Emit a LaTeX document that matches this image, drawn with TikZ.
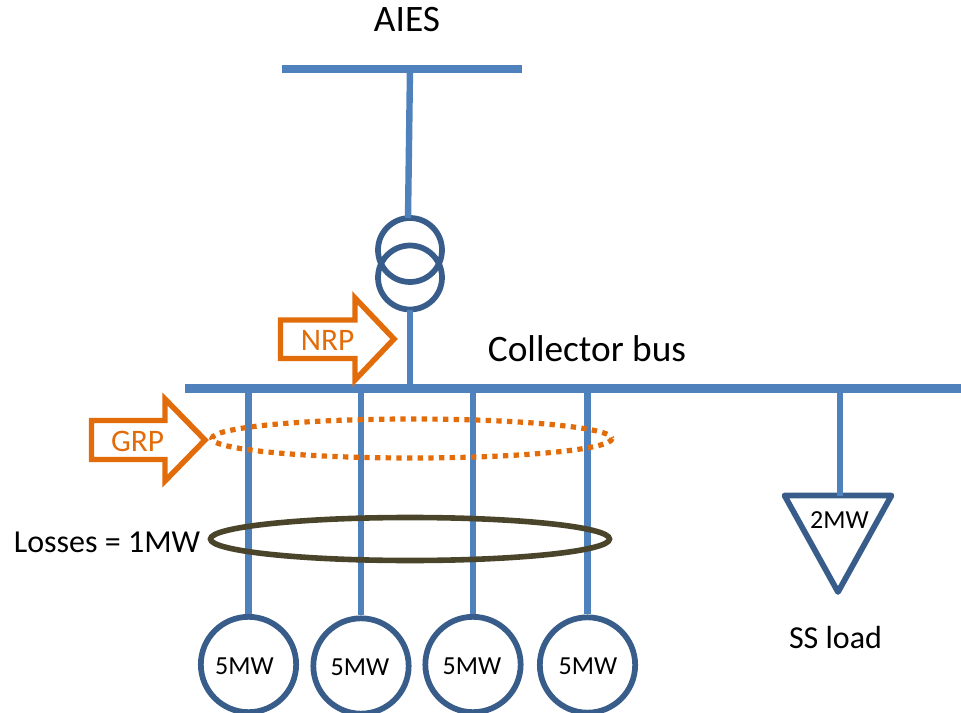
\documentclass[tikz,border=0pt]{standalone}
\usepackage{fontspec}
\setmainfont{Carlito}
\usepackage{xcolor}
\definecolor{busblue}{HTML}{4F81BD}
\definecolor{ringblue}{HTML}{385D8A}
\definecolor{flowor}{HTML}{E36C0A}
\definecolor{lossol}{HTML}{4A452A}
\tikzset{
	bus/.style={busblue,line width=6.3pt},
	feeder/.style={busblue,line width=4.8pt},
	ring/.style={ringblue,line width=4.3pt},
	flow/.style={flowor,line width=4.1pt,miter limit=10},
	lbl/.style={inner sep=0pt,font=\fontsize{28}{32}\selectfont},
	lblmid/.style={inner sep=0pt,font=\fontsize{24}{28}\selectfont},
	lblflow/.style={inner sep=0pt,flowor,font=\fontsize{23.5}{27}\selectfont},
	lblsmall/.style={inner sep=0pt,font=\fontsize{19.5}{23}\selectfont},
}
\begin{document}
\begin{tikzpicture}[x=0.75pt,y=-0.75pt]
				\useasboundingbox (0,0) rectangle (961,713);
				\coordinate (T1) at (282,69);
				\coordinate (T2) at (522,69);
				\coordinate (B1) at (185,388.5);
				\coordinate (B2) at (961,388.5);
				\draw[bus] (T1) -- (T2);
				\draw[bus] (B1) -- (B2);
				\node[lbl] (aies) at (407,20) {AIES};
				\node[lbl] (cbus) at (587,349) {Collector bus};
				\node[lblmid] (lossl) at (107,542) {Losses = 1MW};
				\node[lblmid] (ssl) at (835.5,638) {SS load};
				% transformer
				\coordinate (X1) at (410,250);
				\coordinate (X2) at (410,277.5);
				\draw[ring] (X1) circle[radius=32];
				\draw[ring] (X2) circle[radius=32];
				\draw[feeder] (410,69) -- (408,218);
				\draw[feeder] (410,309.5) -- (410,388.5);
				% generators
				\foreach \n/\x/\y/\tx/\ty in {a/248.5/664.5/244.5/666,b/361/666/360/667,c/473/664.5/472/666,d/587.5/665/588/666}{
					\coordinate (bus\n) at (\x,388.5);
					\node[ring,draw,circle,minimum size=71.5pt,inner sep=0pt] (gen\n) at (\x,\y) {};
					\draw[feeder] (bus\n) -- (gen\n.north);
					\node[lblsmall] (val\n) at (\tx,\ty) {5MW};
				}
				% load
				\coordinate (L1) at (784.5,495.5);
				\coordinate (L2) at (891.5,495.5);
				\coordinate (L3) at (838,592);
				\coordinate (L0) at (840,388.5);
				\draw[ring,line join=round] (L1) -- (L2) -- (L3) -- cycle;
				\draw[feeder] (L0) -- (840,495.5);
				\node[lblsmall] (lval) at (839.5,520) {2MW};
				% loss rings
				\draw[flowor,line width=3.9pt,dash pattern=on 4pt off 4pt] (412,438.5) ellipse[x radius=200,y radius=19.5];
				\draw[lossol,line width=4.2pt] (410,539) ellipse[x radius=199.5,y radius=21.5];
				% arrows
				\draw[flow] (280.5,320) -- (355,320) -- (355,298) -- (394,339) -- (355,380) -- (355,358.5) -- (280.5,358.5) -- cycle;
				\draw[flow] (91.5,420.5) -- (165,420.5) -- (165,399) -- (205,440) -- (165,481) -- (165,459.5) -- (91.5,459.5) -- cycle;
				\node[lblflow] (nrp) at (327.5,340) {NRP};
				\node[lblflow] (grp) at (137.5,441) {GRP};
			\end{tikzpicture}
\end{document}
